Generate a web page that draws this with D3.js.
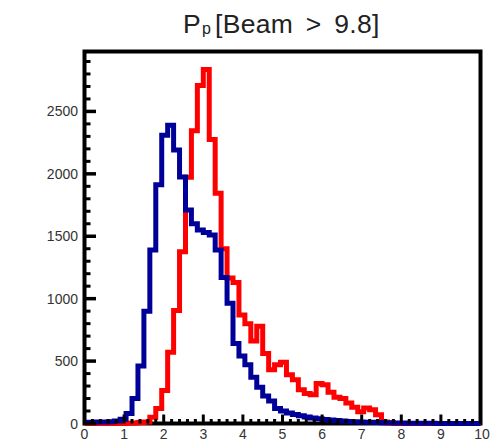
<!DOCTYPE html>
<html>
<head>
<meta charset="utf-8">
<script src="https://cdn.jsdelivr.net/npm/d3@7"></script>
<style>
  html, body { margin: 0; padding: 0; background: #fff; }
  svg { display: block; }
  text { font-family: "Liberation Sans", Arial, Helvetica, sans-serif; }
</style>
</head>
<body>
<div id="chart"></div>
<script>
// ---- data ----
const binWidth = 0.15;                       // histogram bin width (P_p units)
const binEdges = d3.range(0, 67).map(i => +(i * binWidth).toFixed(2)); // lower edges 0 .. 9.9

const blueCounts = [
  10, 10, 12, 12, 15, 20, 35, 80, 200, 460,
  900, 1390, 1912, 2310, 2390, 2190, 1975, 1710, 1600, 1550,
  1530, 1510, 1390, 1170, 963, 640, 540, 470, 370, 290,
  220, 180, 120, 100, 85, 72, 62, 52, 45, 38,
  32, 28, 24, 20, 17, 15, 13, 11, 10, 8,
  7, 6, 5, 4, 3, 3, 2, 2, 2, 1,
  1, 1, 1, 1, 0, 0, 0
];
const redCounts = [
  0, 0, 0, 0, 0, 0, 0, 3, 5, 8,
  12, 50, 120, 265, 570, 905, 1375, 1972, 2346, 2707,
  2835, 2275, 1845, 1400, 1165, 1130, 870, 800, 660, 780,
  560, 430, 470, 490, 390, 350, 270, 240, 230, 320,
  310, 250, 210, 200, 165, 130, 95, 125, 110, 70,
  12, 5, 0, 0, 0, 0, 0, 0, 0, 0,
  0, 0, 0, 0, 0, 0, 0
];
const xTicks = [0, 1, 2, 3, 4, 5, 6, 7, 8, 9, 10];
const yTicks = [0, 500, 1000, 1500, 2000, 2500];
const titleMain = "P";
const titleSub = "p";
const titleRest = "[Beam > 9.8]";

// ---- layout ----
const W = 492, H = 440;
const L = 84.5, R = 480.5, T = 51.5, B = 423.5;

const svg = d3.select("#chart").append("svg").attr("width", W).attr("height", H);

const x = d3.scaleLinear().domain([0, 10]).range([L, R]);
const y = d3.scaleLinear().domain([0, 2980]).range([B, T]);

// frame
svg.append("rect")
  .attr("x", L).attr("y", T).attr("width", R - L).attr("height", B - T)
  .attr("fill", "none").attr("stroke", "#000").attr("stroke-width", 4);

// clip
svg.append("defs").append("clipPath").attr("id", "plotclip")
  .append("rect").attr("x", L).attr("y", T).attr("width", R - L).attr("height", B - T + 2.5);

function pts(counts) {
  const p = binEdges.map((e, i) => [e, counts[i]]);
  p.push([binEdges[binEdges.length - 1] + binWidth, counts[counts.length - 1]]);
  return p;
}
const line = d3.line().x(d => x(d[0])).y(d => y(d[1])).curve(d3.curveStepAfter);

const g = svg.append("g").attr("clip-path", "url(#plotclip)");
g.append("path").attr("d", line(pts(redCounts)))
  .attr("fill", "none").attr("stroke", "#ff0000").attr("stroke-width", 5).attr("stroke-linejoin", "miter");
g.append("path").attr("d", line(pts(blueCounts)))
  .attr("fill", "none").attr("stroke", "#000099").attr("stroke-width", 5).attr("stroke-linejoin", "miter");

// y axis ticks (inward)
const yg = svg.append("g");
yg.selectAll("line").data(d3.range(0, 2901, 100)).join("line")
  .attr("x1", L).attr("x2", d => L + (d % 500 === 0 ? 11.5 : 6))
  .attr("y1", d => y(d)).attr("y2", d => y(d))
  .attr("stroke", "#000").attr("stroke-width", d => d % 500 === 0 ? 3.5 : 3);
yg.selectAll("text").data(yTicks).join("text")
  .attr("x", L - 6.5).attr("y", d => y(d) + 5)
  .attr("text-anchor", "end").attr("font-size", 14).attr("fill", "#333")
  .text(d => d);

// x axis ticks (inward)
const xMinor = d3.range(0, 51).map(i => +(i * 0.2).toFixed(1));
const xg = svg.append("g");
xg.selectAll("line").data(xMinor).join("line")
  .attr("x1", d => x(d)).attr("x2", d => x(d))
  .attr("y1", B).attr("y2", d => B - (Math.abs(d - Math.round(d)) < 1e-6 ? 9 : 4.5))
  .attr("stroke", "#000").attr("stroke-width", 3);
xg.selectAll("text").data(xTicks).join("text")
  .attr("x", d => x(d) + (d === 10 ? 1.5 : 0)).attr("y", 438.5)
  .attr("text-anchor", "middle").attr("font-size", 14).attr("fill", "#333")
  .text(d => d);

// title
const t = svg.append("text").attr("x", 183).attr("y", 32.5)
  .attr("font-size", 26.5).attr("fill", "#222");
t.append("tspan").text(titleMain);
t.append("tspan").attr("x", 202).attr("y", 34).attr("font-size", 16).text(titleSub);
t.append("tspan").attr("x", 215).attr("y", 32.5)
  .attr("word-spacing", 5).attr("letter-spacing", 0.3).text(titleRest);
</script>
</body>
</html>
